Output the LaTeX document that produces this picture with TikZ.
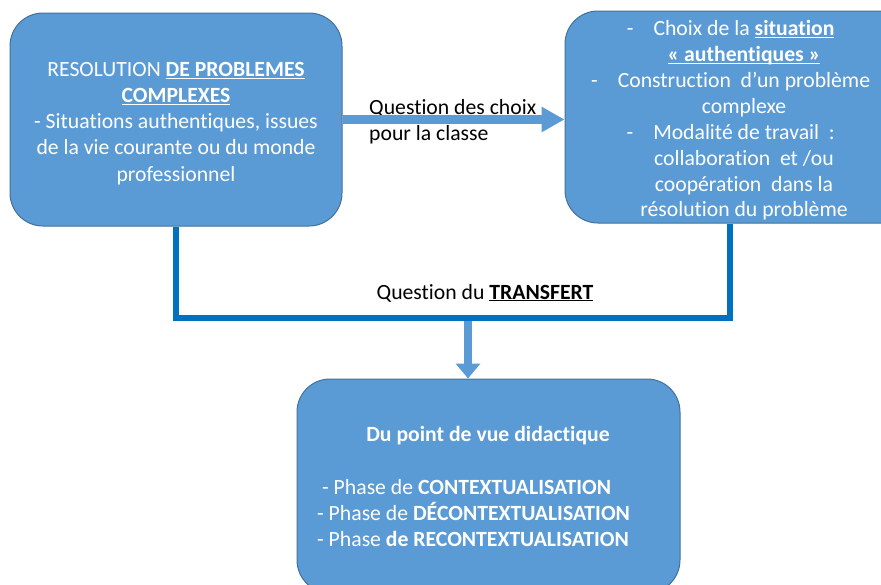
\documentclass[tikz,border=0pt]{standalone}
\usepackage{fontspec}
\setmainfont[Ligatures=NoCommon]{Carlito}
\usetikzlibrary{arrows.meta}
\definecolor{boxfill}{HTML}{5B9BD5}
\definecolor{boxline}{HTML}{41719C}
\definecolor{darkline}{HTML}{0070C0}
\newcommand\myul[1]{\underline{\smash{#1}}}
\begin{document}
\begin{tikzpicture}[x=1pt,y=-1pt,
  box/.style={draw=boxline, line width=1pt, fill=boxfill, rounded corners=33pt,
    text=white, align=center, inner sep=0pt},
  txt/.style={inner sep=0pt, font=\fontsize{21.7}{25.5}\selectfont},
  bluearrow/.style={draw=boxfill, line width=8.5pt},
  bracket/.style={draw=darkline, line width=6pt}]
\useasboundingbox (0,0) rectangle (881,584);
\clip (0,0) rectangle (881,584);
% boxes
\node[box, minimum width=332pt, minimum height=213pt,
  font=\fontsize{21.7}{26.2}\selectfont] (b1) at (176,119.5)
  {\rule{0pt}{22pt}RESOLUTION \textbf{\myul{DE PROBLEMES}}\\
   \textbf{\myul{COMPLEXES}}\\
   - Situations authentiques, issues\\
   de la vie courante ou du monde\\
   professionnel};
\node[box, minimum width=358pt, minimum height=212pt,
  font=\fontsize{21.7}{25.9}\selectfont] (b2) at (744,117)
  {\rule{0pt}{22pt}\llap{-\hspace{20pt}}Choix de la \textbf{\myul{situation}}\\
   \textbf{\myul{« authentiques »}}\\
   \llap{-\hspace{20pt}}Construction\ \ d’un problème\\
   complexe\\
   \llap{-\hspace{20pt}}Modalité de travail\ \ :\\
   collaboration\ \ et /ou\\
   coopération\ \ dans la\\
   résolution du problème};
\node[box, minimum width=383pt, minimum height=214pt] (b3) at (488.5,486) {};
% texts in the lower box
\node[txt, text=white, anchor=base] (t0) at (488,441) {\textbf{Du point de vue didactique}};
\node[txt, text=white, anchor=base west] (t1) at (322,494) {- Phase de \textbf{CONTEXTUALISATION}};
\node[txt, text=white, anchor=base west] (t2) at (317,520) {- Phase de \textbf{DÉCONTEXTUALISATION}};
\node[txt, text=white, anchor=base west] (t3) at (317,546) {- Phase \textbf{de RECONTEXTUALISATION}};
% labels
\node[txt, anchor=base west] (q1) at (369,114) {Question des choix};
\node[txt, anchor=base west] (q2) at (369,140) {pour la classe};
\node[txt, anchor=base] (q3) at (485,299) {Question du \textbf{\myul{TRANSFERT}}};
% connectors
\coordinate (bl) at (176,318);
\coordinate (br) at (730,318);
\coordinate (da) at (468,318);
\draw[bluearrow, -{Triangle[width=24pt,length=23pt]}] (b1.east) -- (b1.east -| b2.west);
\draw[bluearrow, -{Triangle[width=24pt,length=15pt]}] (da) -- (da |- b3.north);
\draw[bracket] (b1.south) -- (bl) -- (br) -- (br |- b2.south);
\end{tikzpicture}
\end{document}
